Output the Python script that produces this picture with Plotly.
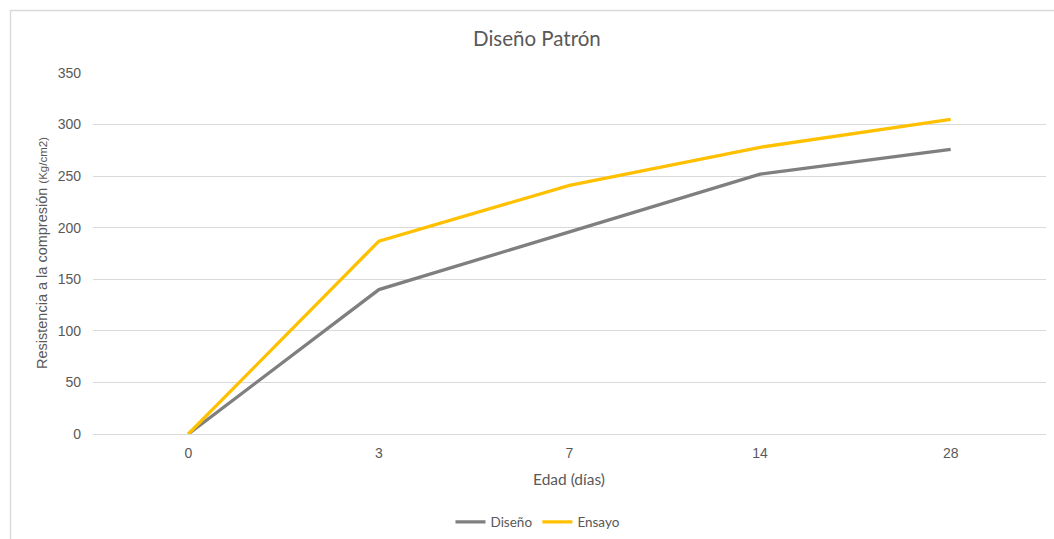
import plotly.graph_objects as go

categories = ["0", "3", "7", "14", "28"]
diseno = [0, 140, 196, 252, 276]
ensayo = [0, 187, 241, 278, 305]
y_ticks = [0, 50, 100, 150, 200, 250, 300, 350]

fig = go.Figure()
fig.add_trace(go.Scatter(x=categories, y=diseno, mode="lines", name="Diseño",
                         line=dict(color="#7f7f7f", width=3.3)))
fig.add_trace(go.Scatter(x=categories, y=ensayo, mode="lines", name="Ensayo",
                         line=dict(color="#FFC000", width=3.3)))

L, R, T, B = 93, 1046, 73, 434
W, H = 1054, 539
pw, ph = R - L, B - T

def px(x):
    return (x - L) / pw

def py(y):
    return (B - y) / ph

fig.update_layout(
    width=W, height=H,
    margin=dict(l=L, r=W - R, t=T, b=H - B, autoexpand=False),
    paper_bgcolor="white", plot_bgcolor="white",
    showlegend=True,
    legend=dict(orientation="h", xref="container", yref="container",
                x=538 / W, xanchor="center",
                y=1 - 522 / H, yanchor="middle",
                font=dict(family="Lato", size=13.5, color="#595959"),
                tracegroupgap=0),
    xaxis=dict(type="category", range=[-0.5, 4.5], showgrid=False, zeroline=False,
               showline=False, ticks="", ticklabelstandoff=9,
               tickfont=dict(family="Liberation Sans", size=14, color="#595959")),
    yaxis=dict(range=[0, 350], tickvals=y_ticks, showgrid=True, gridcolor="#d9d9d9",
               gridwidth=1.3, zeroline=True, zerolinecolor="#d9d9d9", zerolinewidth=1.3,
               showline=False, ticks="", ticklabelstandoff=11,
               tickfont=dict(family="Liberation Sans", size=14, color="#595959")),
    shapes=[dict(type="rect", xref="paper", yref="paper",
                 x0=px(10.5), x1=px(1200), y0=py(10.5), y1=py(700),
                 line=dict(color="#d9d9d9", width=1.3), fillcolor="rgba(0,0,0,0)", layer="below")],
    annotations=[
        dict(text="Diseño Patrón", xref="paper", yref="paper", x=px(537), y=py(38),
             xanchor="center", yanchor="middle", showarrow=False,
             font=dict(family="Lato", size=20.5, color="#595959")),
        dict(text="Edad (días)", xref="paper", yref="paper", x=px(569), y=py(479),
             xanchor="center", yanchor="middle", showarrow=False,
             font=dict(family="Lato", size=15.5, color="#595959")),
        dict(text="Resistencia a la compresión <span style='font-size:11.5px'>(Kg/cm2)</span>",
             xref="paper", yref="paper", x=px(42), y=py(253), textangle=-90,
             xanchor="center", yanchor="middle", showarrow=False,
             font=dict(family="Liberation Sans", size=14.5, color="#595959")),
    ],
)

fig.write_html("out.html", config={"displayModeBar": False},
               post_script="document.body.style.margin='0';")
